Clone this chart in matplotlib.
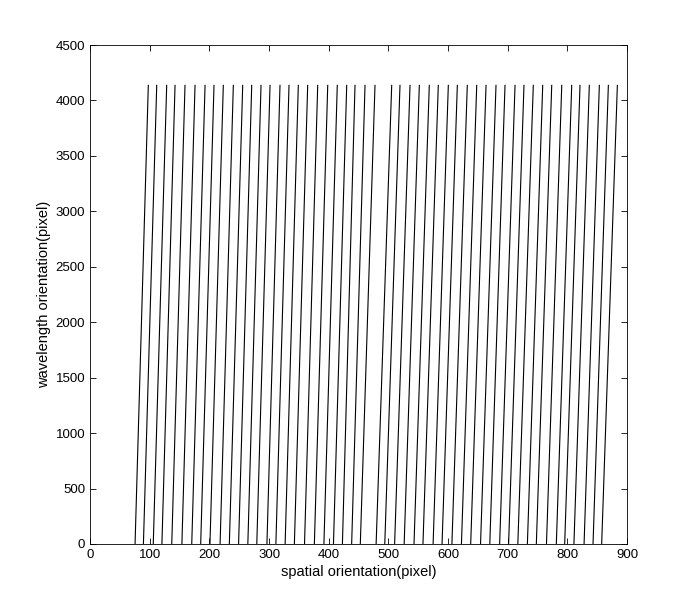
import matplotlib
matplotlib.use("Agg")
import matplotlib.pyplot as plt

# x positions (data units) where each slit trace meets the bottom and the top
x_bottom = [
    75.5, 89.5, 106, 120.5, 137, 154, 170.5, 185.5, 201, 218,
    233.5, 249, 264.5, 279.5, 296.5, 311.5, 327, 342.5, 359.5, 376,
    392, 408, 423, 438.5, 453,
    479.5, 494, 510.5, 526.5, 543, 558, 575, 590, 606.5, 622.5,
    638, 654.5, 670, 686.5, 701.5, 717, 733, 748, 765, 781.5,
    795.5, 811, 828, 843, 857.5,
]
x_top = [
    97.7, 111.8, 128.5, 142.5, 159.2, 176.0, 192.8, 207.8, 223.4, 240.2,
    255.9, 271.0, 286.6, 301.7, 318.4, 333.5, 349.1, 364.8, 381.6, 398.4,
    414.4, 430.2, 444.1, 460.9, 477.6,
    505.6, 519.5, 536.3, 551.9, 568.6, 583.7, 600.5, 615.6, 632.3, 648.1,
    663.7, 680.4, 695.5, 712.3, 727.3, 742.9, 758.7, 773.8, 790.6, 807.3,
    821.2, 836.8, 853.6, 868.7, 883.8,
]
y_bottom = 0
y_top = 4136

plt.rcParams["font.family"] = ["Liberation Sans", "DejaVu Sans"]

fig = plt.figure(figsize=(6.94, 6.10), dpi=100)
ax = fig.add_axes([0.1297, 0.1082, 0.7738, 0.818])

for xb, xt in zip(x_bottom, x_top):
    ax.plot([xb, xt], [y_bottom, y_top], color="black", linewidth=0.8)

ax.set_xlim(0, 900)
ax.set_ylim(0, 4500)
ax.set_xticks(range(0, 901, 100))
ax.set_yticks(range(0, 4501, 500))
ax.tick_params(direction="in", length=4, width=0.6, top=True, right=True,
               labelsize=9.5, colors="black")
for s in ax.spines.values():
    s.set_linewidth(0.6)

ax.set_xlabel("spatial orientation(pixel)", fontsize=10.5, labelpad=3)
ax.set_ylabel("wavelength orientation(pixel)", fontsize=10.5, labelpad=3)

fig.savefig("out.png", dpi=100)
